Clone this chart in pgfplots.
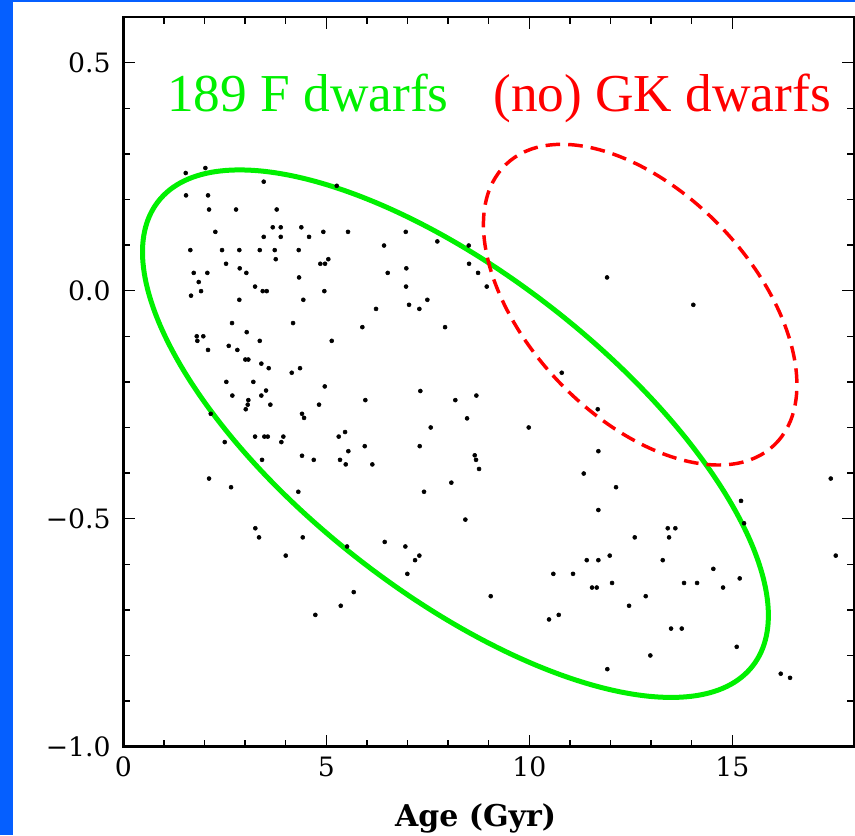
\documentclass[border=0pt]{standalone}
\usepackage{pgfplots}
\pgfplotsset{compat=1.18}
\usepackage{fontspec}
\setmainfont{DejaVu Serif}
\newfontfamily\timesf{Liberation Serif}
\definecolor{bgblue}{RGB}{5,95,255}
\definecolor{brgreen}{RGB}{0,240,0}
\definecolor{brred}{RGB}{255,0,0}
\pgfplotstableread{
x y
1.537 0.258
2.020 0.269
3.458 0.239
5.256 0.230
1.544 0.209
2.086 0.209
2.111 0.178
2.776 0.178
3.778 0.178
2.266 0.129
3.680 0.139
3.877 0.139
3.458 0.118
3.877 0.118
4.384 0.139
4.574 0.118
4.926 0.129
5.534 0.129
1.650 0.089
2.431 0.089
2.857 0.089
3.360 0.089
3.729 0.089
4.320 0.089
3.754 0.069
2.530 0.059
2.867 0.049
3.030 0.039
4.852 0.059
4.968 0.059
5.049 0.069
1.734 0.039
2.069 0.039
1.857 0.019
1.914 -0.001
1.667 -0.011
3.244 0.009
3.433 -0.001
3.532 -0.001
4.328 0.029
4.951 -0.001
2.857 -0.020
4.433 -0.020
6.224 -0.040
2.677 -0.071
4.180 -0.071
5.887 -0.080
3.039 -0.091
1.808 -0.100
1.970 -0.100
1.823 -0.110
3.360 -0.110
5.133 -0.110
2.086 -0.130
2.596 -0.121
2.808 -0.130
3.005 -0.151
3.079 -0.151
3.399 -0.160
3.581 -0.170
4.148 -0.180
4.352 -0.170
2.537 -0.200
3.202 -0.200
4.961 -0.210
2.685 -0.230
3.399 -0.230
3.515 -0.219
3.079 -0.240
3.064 -0.250
3.015 -0.260
3.621 -0.250
4.820 -0.250
5.961 -0.240
2.153 -0.270
4.401 -0.270
4.451 -0.279
2.498 -0.332
3.244 -0.320
3.473 -0.320
3.557 -0.320
3.941 -0.320
3.892 -0.332
3.416 -0.371
4.401 -0.362
4.690 -0.371
5.305 -0.320
5.461 -0.310
5.542 -0.352
5.946 -0.341
5.337 -0.371
5.478 -0.381
6.133 -0.381
2.111 -0.412
2.653 -0.431
4.310 -0.441
3.251 -0.521
3.342 -0.541
4.419 -0.541
4.000 -0.581
5.510 -0.561
5.675 -0.661
5.355 -0.691
4.729 -0.711
8.466 -0.280
7.571 -0.300
9.985 -0.300
7.300 -0.341
8.655 -0.361
8.687 -0.371
8.761 -0.391
8.079 -0.421
7.406 -0.441
8.424 -0.502
11.340 -0.401
11.700 -0.352
11.700 -0.481
11.685 -0.260
6.438 -0.551
6.946 -0.561
7.291 -0.581
7.185 -0.591
6.995 -0.621
9.049 -0.670
10.591 -0.621
11.076 -0.621
11.414 -0.591
11.700 -0.591
11.980 -0.581
11.544 -0.651
11.660 -0.651
10.485 -0.721
10.724 -0.711
11.921 -0.830
6.956 0.129
6.421 0.099
7.734 0.108
8.507 0.099
8.515 0.059
8.737 0.039
8.951 0.009
6.512 0.039
6.970 0.049
6.963 0.009
7.037 -0.031
7.291 -0.040
7.488 -0.020
7.924 -0.080
11.914 0.029
10.798 -0.180
7.315 -0.220
8.177 -0.240
8.695 -0.230
14.039 -0.031
12.135 -0.431
15.214 -0.461
15.288 -0.510
17.424 -0.412
17.547 -0.581
13.409 -0.521
13.596 -0.521
13.441 -0.541
12.596 -0.541
13.286 -0.591
14.532 -0.610
15.182 -0.631
12.037 -0.641
13.810 -0.641
14.131 -0.641
14.771 -0.651
12.867 -0.670
12.456 -0.691
13.490 -0.741
13.754 -0.741
15.108 -0.781
12.980 -0.800
16.192 -0.840
16.421 -0.849
}\stars
\begin{document}
\begin{tikzpicture}
\fill[bgblue] (0,0) rectangle (641.25pt,-626.25pt);
\fill[white] (9.5pt,-1.5pt) rectangle (641.25pt,-626.25pt);
\useasboundingbox (0,0) rectangle (641.25pt,-626.25pt);
\begin{axis}[
  at={(92.5pt,-560pt)}, anchor=south west,
  scale only axis,
  width=548.1pt, height=547.2pt,
  xmin=0, xmax=18, ymin=-1, ymax=0.6,
  xtick={0,5,10,15}, xticklabels={0,5,10,15},
  ytick={-1,-0.5,0,0.5}, yticklabels={−1.0,−0.5,0.0,0.5},
  minor x tick num=4, minor y tick num=4,
  tick align=inside,
  major tick length=9pt, minor tick length=5pt,
  every tick/.style={black, line width=1.1pt},
  axis line style={black, line width=1.8pt},
  tick label style={font=\fontsize{20}{24}\selectfont},
  yticklabel style={xshift=-6pt},
  xticklabel style={yshift=-4pt},
  xlabel={\bfseries Age (Gyr)},
  xlabel style={at={(axis description cs:0.482,0)}, anchor=base, yshift=-60pt, font=\fontsize{22.5}{27}\selectfont},
  clip=false,
]
\addplot[only marks, mark=*, mark size=1.5pt, black] table[x=x,y=y] {\stars};
\draw[brgreen, line width=3.75pt, rotate around={-38:(axis cs:8.18,-0.3136)}] (axis cs:8.18,-0.3136) ellipse [x radius=282.9pt, y radius=118.9pt];
\draw[brred, line width=2.6pt, dash pattern=on 11pt off 6pt, rotate around={-46.3:(axis cs:12.73,-0.0307)}] (axis cs:12.73,-0.0307) ellipse [x radius=145.6pt, y radius=84.1pt];
\node[anchor=base west, inner sep=0pt, text=brgreen, font=\timesf\fontsize{40}{48}\selectfont] at (axis cs:1.076,0.3925) {189 F dwarfs};
\node[anchor=base west, inner sep=0pt, text=brred, font=\timesf\fontsize{40}{48}\selectfont] at (axis cs:9.106,0.3925) {(no) GK dwarfs};
\end{axis}
\end{tikzpicture}
\end{document}
